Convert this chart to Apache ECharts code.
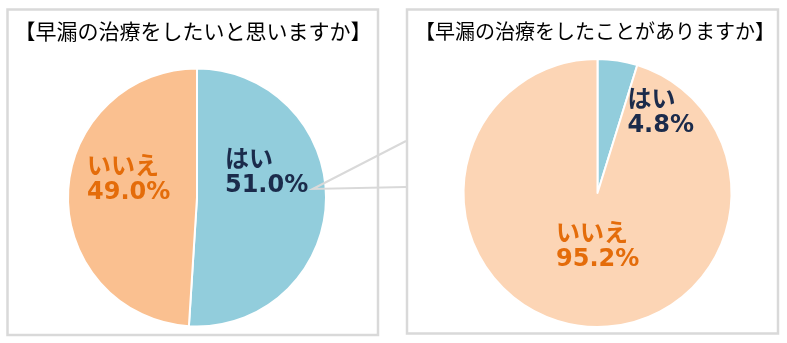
<!DOCTYPE html>
<html>
<head>
<meta charset="utf-8">
<script src="https://cdn.jsdelivr.net/npm/echarts@6/dist/echarts.min.js"></script>
<style>
html,body{margin:0;padding:0;background:#fff;}
#chart{width:787px;height:343px;}
</style>
</head>
<body>
<div id="chart"></div>
<script>
// ---- data ----
var leftTitle = '【早漏の治療をしたいと思いますか】';
var rightTitle = '【早漏の治療をしたことがありますか】';
var categories = ['はい', 'いいえ'];
var leftValues = [51.0, 49.0];
var rightValues = [4.8, 95.2];

// ---- styles ----
var leftColors = ['#92CDDC', '#FAC090'];
var rightColors = ['#92CDDC', '#FCD5B5'];
var labelColors = ['#1B2B4B', '#E46C0A'];
var leftLabelShift = [[-39.5, -26.5], [-42.5, -15.5]];
var rightLabelShift = [[19.4, -10.5], [-31, -15]];
var labelFont = "'DejaVu Sans', 'Noto Sans CJK JP', sans-serif";
var titleFont = "'Noto Sans CJK JP', sans-serif";

function buildData(values, colors) {
  return categories.map(function (c, i) {
    return {
      name: c,
      value: values[i],
      itemStyle: { color: colors[i] },
      label: { color: labelColors[i] }
    };
  });
}

function labelLayoutFor(shifts) {
  return function (params) {
    var s = shifts[params.dataIndex];
    return { dx: s[0], dy: s[1], align: 'left', verticalAlign: 'middle' };
  };
}

var commonLabel = {
  show: true,
  position: 'inside',
  fontFamily: labelFont,
  fontWeight: 'bold',
  fontSize: 24,
  lineHeight: 25,
  align: 'left',
  formatter: function (p) { return p.name + '\n' + p.value.toFixed(1) + '%'; }
};

var chart = echarts.init(document.getElementById('chart'), null, { renderer: 'canvas' });
chart.setOption({
  backgroundColor: '#fff',
  animation: false,
  title: [
    { text: leftTitle, left: 193, top: 21, textAlign: 'center', padding: 0,
      textStyle: { fontFamily: titleFont, fontSize: 21, fontWeight: 'normal', color: '#000' } },
    { text: rightTitle, left: 595, top: 21, textAlign: 'center', padding: 0,
      textStyle: { fontFamily: titleFont, fontSize: 20, fontWeight: 'normal', color: '#000' } }
  ],
  graphic: [
    { type: 'rect', z: -10, shape: { x: 7.5, y: 9.5, width: 370.5, height: 325.5 },
      style: { fill: 'none', stroke: '#D9D9D9', lineWidth: 2.5 } },
    { type: 'rect', z: -10, shape: { x: 407, y: 9.5, width: 371, height: 324 },
      style: { fill: 'none', stroke: '#D9D9D9', lineWidth: 2.5 } },
    { type: 'polyline', z: 100, shape: { points: [[406, 141], [312.7, 189], [406, 187]] },
      style: { fill: 'none', stroke: '#D9D9D9', lineWidth: 2 } }
  ],
  series: [
    {
      type: 'pie',
      center: [197, 197.5],
      radius: [0, 129],
      startAngle: 90,
      clockwise: true,
      silent: true,
      itemStyle: { borderColor: '#fff', borderWidth: 2 },
      label: commonLabel,
      labelLine: { show: false },
      labelLayout: labelLayoutFor(leftLabelShift),
      data: buildData(leftValues, leftColors)
    },
    {
      type: 'pie',
      center: [597.5, 193],
      radius: [0, 134],
      startAngle: 90,
      clockwise: true,
      silent: true,
      itemStyle: { borderColor: '#fff', borderWidth: 2 },
      label: commonLabel,
      labelLine: { show: false },
      labelLayout: labelLayoutFor(rightLabelShift),
      data: buildData(rightValues, rightColors)
    }
  ]
});
</script>
</body>
</html>
